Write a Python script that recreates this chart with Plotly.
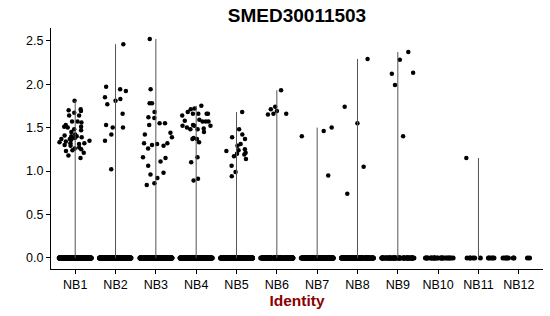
import plotly.graph_objects as go

categories = ["NB1", "NB2", "NB3", "NB4", "NB5", "NB6", "NB7", "NB8", "NB9", "NB10", "NB11", "NB12"]

# non-zero expression values per identity
nb1 = [1.81, 1.71, 1.64, 1.64, 1.67, 1.69, 1.70, 1.57, 1.57, 1.56, 1.51, 1.50, 1.51, 1.53,
       1.48, 1.47, 1.45, 1.42, 1.41, 1.40, 1.40, 1.39, 1.37, 1.37, 1.38, 1.36, 1.35, 1.33,
       1.34, 1.32, 1.30, 1.31, 1.29, 1.32, 1.27, 1.25, 1.23, 1.26, 1.18, 1.15, 1.21, 1.24]
nb2 = [2.46, 1.97, 1.94, 1.92, 1.85, 1.83, 1.81, 1.77, 1.66, 1.53, 1.50, 1.50, 1.42, 1.35, 1.02]
nb3 = [2.52, 1.94, 1.78, 1.78, 1.68, 1.62, 1.61, 1.55, 1.55, 1.53, 1.44, 1.42, 1.39, 1.32,
       1.32, 1.31, 1.29, 1.30, 1.26, 1.16, 1.15, 1.11, 1.06, 0.98, 0.96, 0.92, 0.86, 0.84]
nb4 = [1.75, 1.68, 1.66, 1.66, 1.64, 1.59, 1.52, 1.50, 1.52, 1.57, 1.58, 1.57, 1.48, 1.45,
       1.66, 1.66, 1.72, 1.53, 1.48, 1.49, 1.57, 1.52, 1.38, 1.37, 1.10, 1.16, 0.91, 0.89,
       1.71, 1.37, 1.33]
nb5 = [1.68, 1.48, 1.42, 1.37, 1.31, 1.24, 1.39, 1.29, 1.25, 1.21, 1.23, 1.20, 1.17, 1.14,
       1.19, 1.06, 0.99, 0.94]
nb6 = [1.93, 1.65, 1.71, 1.66, 1.74, 1.66, 1.69]
nb7 = [1.50, 1.46, 1.40, 0.95]
nb8 = [2.29, 1.74, 1.55, 1.05, 0.74]
nb9 = [2.37, 2.28, 2.13, 2.12, 1.99, 1.40]
nb10 = []
nb11 = [1.15]
nb12 = []
nonzero_values = [nb1, nb2, nb3, nb4, nb5, nb6, nb7, nb8, nb9, nb10, nb11, nb12]

# number of cells with zero expression per identity (estimated)
zero_counts = [200, 200, 200, 180, 180, 150, 150, 130, 60, 25, 11, 9]

positions = list(range(1, len(categories) + 1))

x_nz, y_nz, x_z, y_z = [], [], [], []
line_x, line_y = [], []
for p, vals, nz in zip(positions, nonzero_values, zero_counts):
    x_nz += [p] * len(vals)
    y_nz += vals
    x_z += [p] * nz
    y_z += [0.0] * nz
    if vals:
        line_x += [p, p, None]
        line_y += [0.0, max(vals), None]

fig = go.Figure()

fig.add_trace(go.Scatter(x=line_x, y=line_y, mode="lines",
                         line=dict(color="#555555", width=1),
                         hoverinfo="skip", showlegend=False))


def box_style(size):
    return dict(boxpoints="all", jitter=1, pointpos=0, width=0.8,
                fillcolor="rgba(0,0,0,0)",
                line=dict(width=0, color="rgba(0,0,0,0)"),
                marker=dict(color="black", size=size),
                hoverinfo="skip", showlegend=False)


fig.add_trace(go.Box(x=x_z, y=y_z, **box_style(5)))
fig.add_trace(go.Box(x=x_nz, y=y_nz, **box_style(4.5)))

font_family = "Liberation Sans, Arial, sans-serif"

fig.update_layout(
    width=550, height=316,
    margin=dict(l=51, r=7, t=28, b=47),
    paper_bgcolor="white", plot_bgcolor="white",
    boxmode="overlay",
    font=dict(family=font_family, color="black"),
    title=dict(text="SMED30011503", x=0.5, xref="paper",
               y=1 - 15 / 316, yref="container", yanchor="middle",
               font=dict(size=19, weight="bold", color="black", family=font_family)),
    xaxis=dict(range=[0.4, 12.6], tickmode="array", tickvals=positions, ticktext=categories,
               showline=True, linecolor="black", linewidth=1,
               ticks="outside", ticklen=4, tickcolor="black",
               showgrid=False, zeroline=False,
               tickfont=dict(size=12.5, color="black"),
               title=dict(text="Identity", standoff=4,
                          font=dict(size=15.5, weight="bold", color="#8B0000"))),
    yaxis=dict(range=[-0.127, 2.646], tickmode="array",
               tickvals=[0, 0.5, 1.0, 1.5, 2.0, 2.5],
               ticktext=["0.0", "0.5", "1.0", "1.5", "2.0", "2.5"],
               showline=True, linecolor="black", linewidth=1,
               ticks="outside", ticklen=4, tickcolor="black",
               showgrid=False, zeroline=False,
               tickfont=dict(size=12.5, color="black")),
)

fig.write_html("out.html")
